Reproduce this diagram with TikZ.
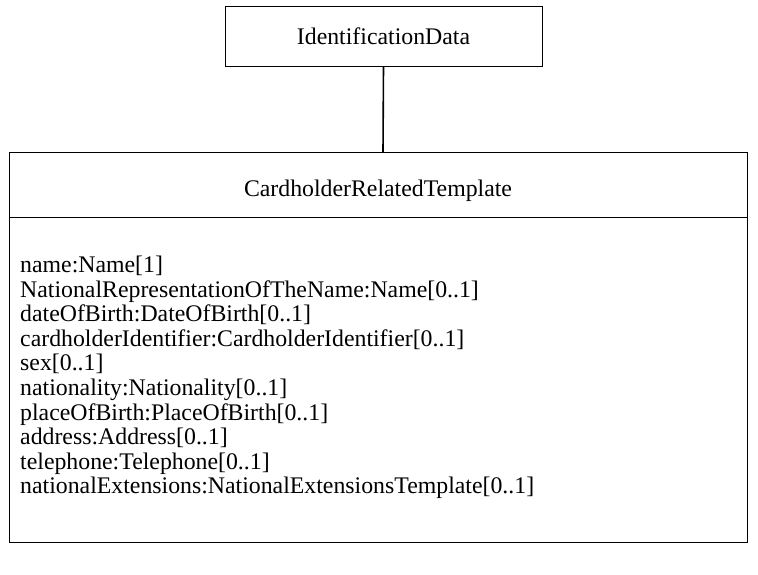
\documentclass[tikz,border=0pt]{standalone}
\usepackage{fontspec}
\setmainfont{Liberation Serif}
\begin{document}
\begin{tikzpicture}[x=1pt,y=-1pt,
  boxline/.style={draw=black,line width=1pt},
  attr/.style={anchor=west,inner sep=0pt,font=\fontsize{23.8}{26}\selectfont,text height=16pt,text depth=5pt},
  ttl/.style={inner sep=0pt,font=\fontsize{23.8}{26}\selectfont}]
\useasboundingbox (0,0) rectangle (758,574);
\fill[white] (0,0) rectangle (758,574);
\node[boxline,minimum width=317pt,minimum height=60pt,inner sep=0pt,font=\fontsize{23.8}{26}\selectfont] (id) at (383.5,36) {IdentificationData};
\draw[boxline] (9,152) rectangle (747,542);
\coordinate (crtTop) at (383,152);
\draw[boxline] (9,217) -- (747,217);
\node[ttl] (crt) at (378,191) {CardholderRelatedTemplate};
\draw[line width=1.6pt] (id.south) -- (crtTop);
\node[attr] (a1) at (20,267) {name:Name[1]};
\node[attr] (a2) at (20,291.6) {NationalRepresentationOfTheName:Name[0..1]};
\node[attr] (a3) at (20,316.2) {dateOfBirth:DateOfBirth[0..1]};
\node[attr] (a4) at (20,340.8) {cardholderIdentifier:CardholderIdentifier[0..1]};
\node[attr] (a5) at (20,365.4) {sex[0..1]};
\node[attr] (a6) at (20,390) {nationality:Nationality[0..1]};
\node[attr] (a7) at (20,414.6) {placeOfBirth:PlaceOfBirth[0..1]};
\node[attr] (a8) at (20,439.2) {address:Address[0..1]};
\node[attr] (a9) at (20,463.8) {telephone:Telephone[0..1]};
\node[attr] (a10) at (20,488.4) {nationalExtensions:NationalExtensionsTemplate[0..1]};
\end{tikzpicture}
\end{document}
